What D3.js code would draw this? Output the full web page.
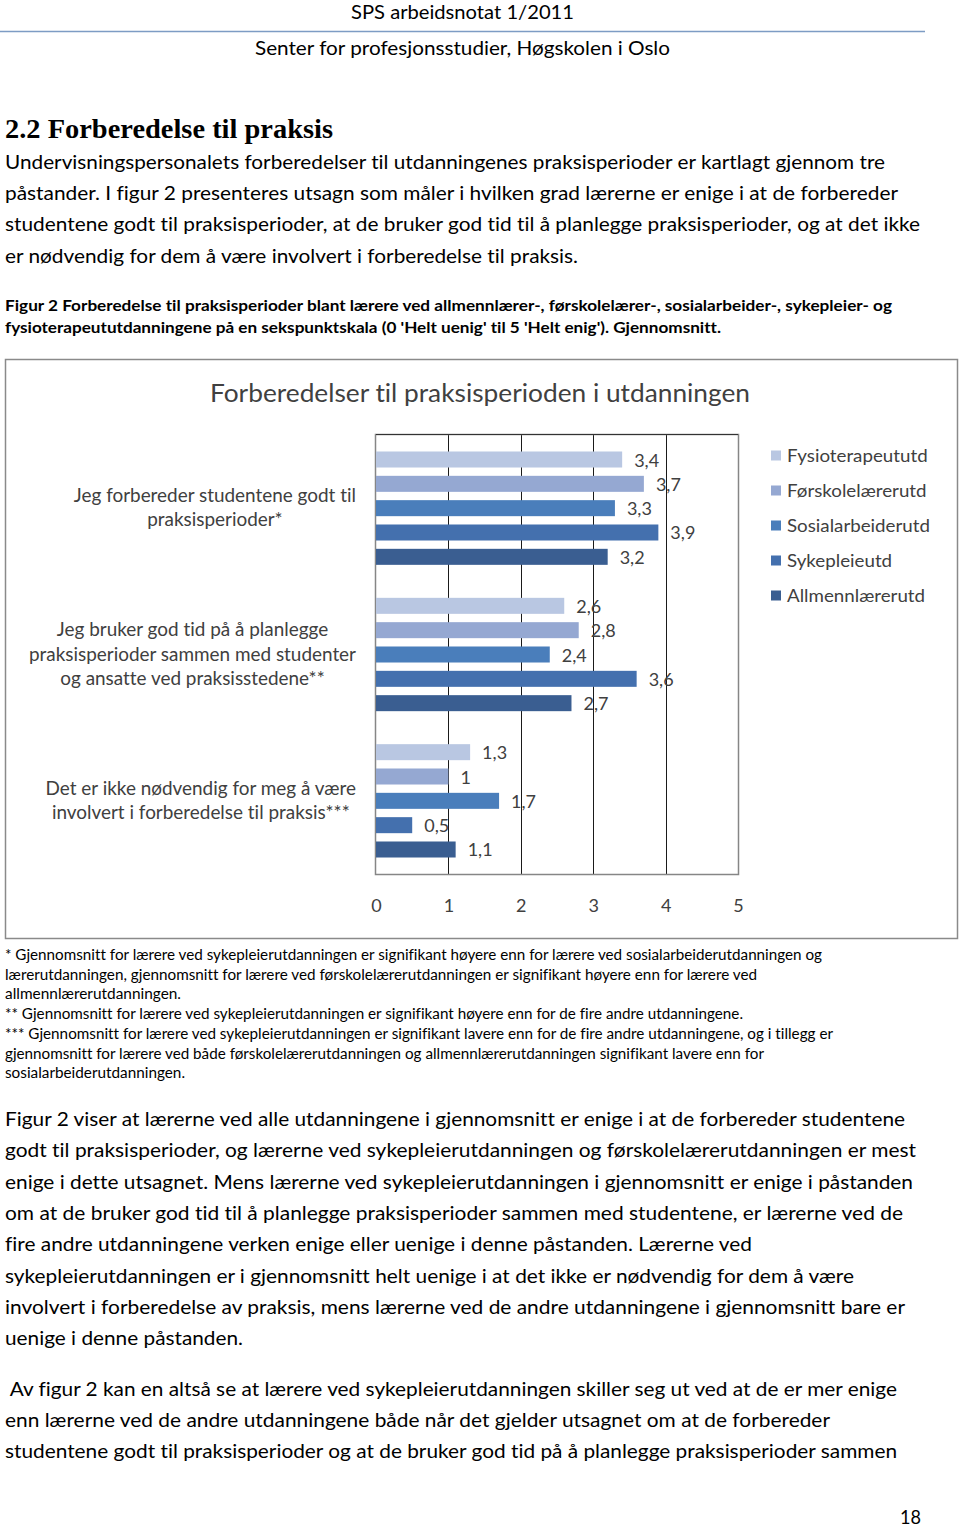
<!DOCTYPE html>
<html>
<head>
<meta charset="utf-8">
<script src="https://cdn.jsdelivr.net/npm/d3@7"></script>
<style>
  html, body { margin: 0; padding: 0; background: #fff; }
  svg { display: block; }
  svg text { font-variant-ligatures: none; font-feature-settings: "liga" 0, "clig" 0; }
</style>
</head>
<body>
<svg id="page" width="960" height="1527"></svg>
<script>
// ---------- DATA ----------
const categories = [
  ["Jeg forbereder studentene godt til", "praksisperioder*"],
  ["Jeg bruker god tid på å planlegge", "praksisperioder sammen med studenter", "og ansatte ved praksisstedene**"],
  ["Det er ikke nødvendig for meg å være", "involvert i forberedelse til praksis***"]
];
const seriesNames = ["Fysioterapeututd", "Førskolelærerutd", "Sosialarbeiderutd", "Sykepleieutd", "Allmennlærerutd"];
const fysioterapeut = [3.4, 2.6, 1.3];
const forskolelaerer = [3.7, 2.8, 1.0];
const sosialarbeider = [3.3, 2.4, 1.7];
const sykepleie = [3.9, 3.6, 0.5];
const allmennlaerer = [3.2, 2.7, 1.1];
const tickValues = [0, 1, 2, 3, 4, 5];
const seriesValues = [fysioterapeut, forskolelaerer, sosialarbeider, sykepleie, allmennlaerer];
const seriesColors = ["#B9C7E2", "#95A8D2", "#4A7EBB", "#4470AE", "#3A5E91"];
const chartTitle = "Forberedelser til praksisperioden i utdanningen";

// ---------- PAGE TEXT ----------
const header1 = "SPS arbeidsnotat 1/2011";
const header2 = "Senter for profesjonsstudier, Høgskolen i Oslo";
const heading = "2.2 Forberedelse til praksis";
const para1 = [
  ["Undervisningspersonalets forberedelser til utdanningenes praksisperioder er kartlagt gjennom tre", 885],
  ["påstander. I figur 2 presenteres utsagn som måler i hvilken grad lærerne er enige i at de forbereder", 898],
  ["studentene godt til praksisperioder, at de bruker god tid til å planlegge praksisperioder, og at det ikke", 920],
  ["er nødvendig for dem å være involvert i forberedelse til praksis.", 578]
];
const caption = [
  ["Figur 2 Forberedelse til praksisperioder blant lærere ved allmennlærer-, førskolelærer-, sosialarbeider-, sykepleier- og", 892],
  ["fysioterapeututdanningene på en sekspunktskala (0 'Helt uenig' til 5 'Helt enig'). Gjennomsnitt.", 721]
];
const footnotes = [
  ["* Gjennomsnitt for lærere ved sykepleierutdanningen er signifikant høyere enn for lærere ved sosialarbeiderutdanningen og", 822],
  ["lærerutdanningen, gjennomsnitt for lærere ved førskolelærerutdanningen er signifikant høyere enn for lærere ved", 757],
  ["allmennlærerutdanningen.", 181],
  ["** Gjennomsnitt for lærere ved sykepleierutdanningen er signifikant høyere enn for de fire andre utdanningene.", 743],
  ["*** Gjennomsnitt for lærere ved sykepleierutdanningen er signifikant lavere enn for de fire andre utdanningene, og i tillegg er", 833],
  ["gjennomsnitt for lærere ved både førskolelærerutdanningen og allmennlærerutdanningen signifikant lavere enn for", 764],
  ["sosialarbeiderutdanningen.", 185]
];
const para2 = [
  ["Figur 2 viser at lærerne ved alle utdanningene i gjennomsnitt er enige i at de forbereder studentene", 905],
  ["godt til praksisperioder, og lærerne ved sykepleierutdanningen og førskolelærerutdanningen er mest", 916],
  ["enige i dette utsagnet. Mens lærerne ved sykepleierutdanningen i gjennomsnitt er enige i påstanden", 913],
  ["om at de bruker god tid til å planlegge praksisperioder sammen med studentene, er lærerne ved de", 903],
  ["fire andre utdanningene verken enige eller uenige i denne påstanden. Lærerne ved", 752],
  ["sykepleierutdanningen er i gjennomsnitt helt uenige i at det ikke er nødvendig for dem å være", 854],
  ["involvert i forberedelse av praksis, mens lærerne ved de andre utdanningene i gjennomsnitt bare er", 905],
  ["uenige i denne påstanden.", 243]
];
const para3 = [
  [" Av figur 2 kan en altså se at lærere ved sykepleierutdanningen skiller seg ut ved at de er mer enige", 897],
  ["enn lærerne ved de andre utdanningene både når det gjelder utsagnet om at de forbereder", 830],
  ["studentene godt til praksisperioder og at de bruker god tid på å planlegge praksisperioder sammen", 897]
];
const pageNumber = "18";

// ---------- DRAW ----------
const svg = d3.select("#page");
const SANS = "Lato, 'Open Sans', sans-serif";

function fitLine(sel, text, x, y, xEnd, opts) {
  const t = sel.append("text")
    .attr("x", x).attr("y", y)
    .attr("font-family", opts.family || SANS)
    .attr("font-size", opts.size)
    .attr("font-weight", opts.weight || "normal")
    .attr("fill", opts.fill || "#000")
    .attr("xml:space", "preserve")
    .style("white-space", "pre")
    .text(text);
  if (xEnd != null) {
    t.attr("textLength", xEnd - x).attr("lengthAdjust", "spacingAndGlyphs");
  }
  return t;
}

// header
fitLine(svg, header1, 351, 19, 574, {size: 20});
svg.append("line").attr("x1", 0).attr("x2", 925).attr("y1", 31.5).attr("y2", 31.5)
  .attr("stroke", "#7d9cc4").attr("stroke-width", 1.3);
fitLine(svg, header2, 255, 55, 670, {size: 20});

// heading
fitLine(svg, heading, 5, 138, 333, {size: 27, weight: "bold", family: "'Liberation Serif', 'DejaVu Serif', serif"});

// paragraph 1
para1.forEach((d, i) => fitLine(svg, d[0], 5, 169 + i * 31.2, d[1], {size: 20}));

// caption
caption.forEach((d, i) => fitLine(svg, d[0], 5, 311 + i * 22, d[1], {size: 16, weight: "bold"}));

// footnotes
footnotes.forEach((d, i) => fitLine(svg, d[0], 5, 960 + i * 19.7, d[1], {size: 14.5}));

// paragraph 2
para2.forEach((d, i) => fitLine(svg, d[0], 5, 1126 + i * 31.3, d[1], {size: 20}));

// paragraph 3
para3.forEach((d, i) => fitLine(svg, d[0], 5, 1396 + i * 31.2, d[1], {size: 20}));

// page number
fitLine(svg, pageNumber, 900, 1524, 921, {size: 20});

// ---------- CHART ----------
const chart = svg.append("g");
chart.append("rect").attr("x", 5.5).attr("y", 359.5).attr("width", 952).attr("height", 579)
  .attr("fill", "#fff").attr("stroke", "#8a8a8a").attr("stroke-width", 1.5);

const TXT = "#404040";
// title
const titleEl = chart.append("text").attr("x", 480).attr("y", 402).attr("text-anchor", "middle")
  .attr("font-family", SANS).attr("font-size", 25).attr("fill", TXT).text(chartTitle);
titleEl.attr("textLength", 540).attr("lengthAdjust", "spacingAndGlyphs");

const plot = {left: 376, right: 738, top: 435, bottom: 874};
const x = d3.scaleLinear().domain([0, 5]).range([plot.left, plot.right]);
const y0 = d3.scaleBand().domain(d3.range(categories.length)).range([plot.top, plot.bottom]).padding(0);
const y1 = d3.scaleBand().domain(seriesNames).range([0, y0.bandwidth()]).paddingInner(0.342).paddingOuter(0.678);

// gridlines
chart.append("g").selectAll("line").data(tickValues.filter(v => v > 0 && v < 5)).join("line")
  .attr("x1", d => Math.round(x(d)) + 0.5).attr("x2", d => Math.round(x(d)) + 0.5)
  .attr("y1", plot.top).attr("y2", plot.bottom)
  .attr("stroke", "#1a1a1a").attr("stroke-width", 1);

// plot border
chart.append("rect").attr("x", plot.left - 0.5).attr("y", plot.top - 0.5)
  .attr("width", plot.right - plot.left + 1).attr("height", plot.bottom - plot.top + 1)
  .attr("fill", "none").attr("stroke", "#868686").attr("stroke-width", 1.5);
chart.append("line").attr("x1", plot.left).attr("x2", plot.right).attr("y1", plot.top - 0.5).attr("y2", plot.top - 0.5)
  .attr("stroke", "#333").attr("stroke-width", 1);

// bars
const barData = [];
categories.forEach((c, ci) => {
  seriesNames.forEach((s, si) => {
    barData.push({ci, s, si, v: seriesValues[si][ci]});
  });
});
chart.append("g").selectAll("rect").data(barData).join("rect")
  .attr("x", x(0))
  .attr("y", d => y0(d.ci) + y1(d.s))
  .attr("width", d => x(d.v) - x(0))
  .attr("height", y1.bandwidth())
  .attr("fill", d => seriesColors[d.si]);

// value labels
const fmt = v => String(v).replace(".", ",");
chart.append("g").selectAll("text").data(barData).join("text")
  .attr("x", d => x(d.v) + 12)
  .attr("y", d => y0(d.ci) + y1(d.s) + y1.bandwidth() / 2 + 7)
  .attr("font-family", SANS).attr("font-size", 18).attr("fill", TXT)
  .text(d => fmt(d.v));

// x axis tick labels
const axis = d3.axisBottom(x).tickValues(tickValues).tickSize(0).tickPadding(0).tickFormat(d3.format("d"));
const axG = chart.append("g").attr("transform", `translate(0, 912)`).call(axis);
axG.select(".domain").remove();
axG.selectAll("text").attr("font-family", SANS).attr("font-size", 18).attr("fill", TXT).attr("dy", 0);

// category labels
const catFont = 18.5;
const catG = chart.append("g");
const probe = catG.append("text").attr("font-family", SANS).attr("font-size", catFont).text("praksisperioder sammen med studenter");
const catK = 327 / probe.node().getComputedTextLength();
probe.remove();
categories.forEach((lines, ci) => {
  const widths = lines.map(l => {
    const p = catG.append("text").attr("font-family", SANS).attr("font-size", catFont).text(l);
    const w = p.node().getComputedTextLength() * catK;
    p.remove();
    return w;
  });
  const maxW = d3.max(widths);
  const cx = 356 - maxW / 2;
  const lh = 24.6;
  const cy = y0(ci) + y0.bandwidth() / 2;
  lines.forEach((l, li) => {
    const yy = cy + (li - (lines.length - 1) / 2) * lh + 6;
    catG.append("text").attr("x", cx).attr("y", yy).attr("text-anchor", "middle")
      .attr("font-family", SANS).attr("font-size", catFont).attr("fill", TXT)
      .attr("textLength", widths[li]).attr("lengthAdjust", "spacingAndGlyphs")
      .text(l);
  });
});

// legend
const legFont = 18;
const legG = chart.append("g");
const probe2 = legG.append("text").attr("font-family", SANS).attr("font-size", legFont).text("Sosialarbeiderutd");
const legK = 143 / probe2.node().getComputedTextLength();
probe2.remove();
seriesNames.forEach((s, i) => {
  const cy = 456 + i * 35;
  legG.append("rect").attr("x", 771).attr("y", cy - 5.5).attr("width", 10).attr("height", 10)
    .attr("fill", seriesColors[i]);
  const t = legG.append("text").attr("x", 787).attr("y", cy + 6)
    .attr("font-family", SANS).attr("font-size", legFont).attr("fill", TXT).text(s);
  const w = t.node().getComputedTextLength() * legK;
  t.attr("textLength", w).attr("lengthAdjust", "spacingAndGlyphs");
});
</script>
</body>
</html>
